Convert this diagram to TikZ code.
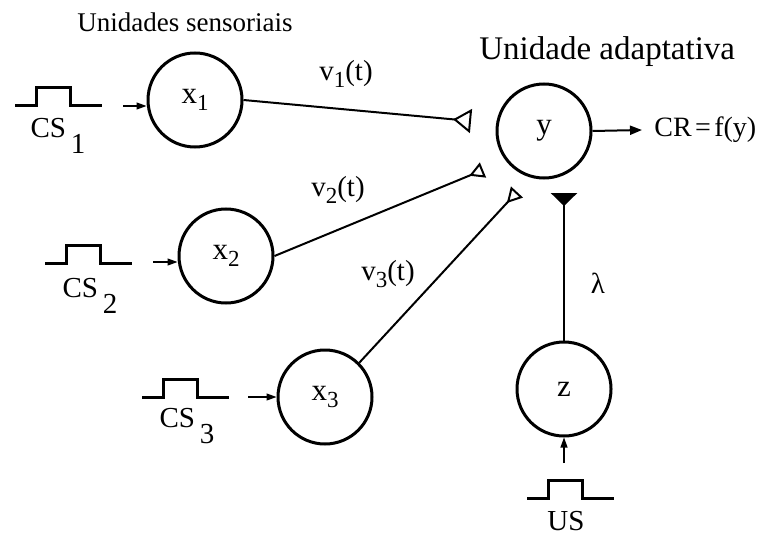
\documentclass[tikz,border=0pt]{standalone}
\usepackage{fontspec}
\setmainfont{Liberation Serif}
\usetikzlibrary{arrows.meta, positioning, calc}

% lowered indices as in the drawing
\newcommand{\csidx}[1]{\,\raisebox{-1.2ex}{#1}}
\newcommand{\unitidx}[1]{\raisebox{-0.5ex}{\fontsize{11.5}{13}\selectfont #1}}

\begin{document}
\begin{tikzpicture}[x=0.5pt, y=-0.5pt,
  every node/.style={font=\fontsize{14.5}{17}\selectfont, inner sep=1pt},
  unit/.style={circle, draw, line width=1.5pt, minimum size=47pt, inner sep=0pt,
               font=\fontsize{15.5}{18}\selectfont},
  pulse/.style={line width=1.5pt},
  feed/.style={line width=0.6pt, -{Triangle[length=5pt, width=3.5pt]}},
  link/.style={line width=1pt},
  synbig/.style={link, -{Triangle[open, reversed, length=9pt, width=12pt]}},
  syn/.style={link, -{Triangle[open, reversed, length=7.5pt, width=8pt]}},
  synfull/.style={line width=1.4pt, -{Triangle[reversed, length=6.5pt, width=13pt]}}
]
  \useasboundingbox (0,0) rectangle (763,534);

  % titles
  \node[anchor=west, font=\fontsize{13.5}{16}\selectfont] (tsens) at (75,22) {Unidades sensoriais};
  \node[anchor=west, font=\fontsize{16.5}{19}\selectfont] (tadap) at (477,52) {Unidade adaptativa};

  % units
  \node[unit] (x1) at (195,100) {x\unitidx{1}};
  \node[unit] (x2) at (226,256) {x\unitidx{2}};
  \node[unit] (x3) at (325,397) {x\unitidx{3}};
  \node[unit] (y) at (544,131) {y};
  \node[unit] (z) at (564,389) {z};

  % stimulus pulses
  \foreach \px/\py in {15/106, 45/263, 142/397, 527/498}
    \draw[pulse] (\px,\py) -- ++(21,0) -- ++(0,-18) -- ++(34,0) -- ++(0,18) -- ++(32,0);
  \node (cs1) at (58,136) {CS\csidx{1}};
  \node (cs2) at (90,296) {CS\csidx{2}};
  \node (cs3) at (187,426) {CS\csidx{3}};
  \node (us) at (566,521) {US};

  % inputs
  \coordinate (i1) at (123,106);
  \coordinate (i2) at (153,262);
  \coordinate (i3) at (248,397);
  \coordinate (i4) at (564,463);
  \draw[feed] (i1) -- (i1 -| x1.west);
  \draw[feed] (i2) -- (i2 -| x2.west);
  \draw[feed] (i3) -- (i3 -| x3.west);
  \draw[feed] (i4) -- (z.south);

  % synapses
  \coordinate (s1) at (471,121);
  \coordinate (s2) at (483,170);
  \coordinate (s3) at (517,192);
  \coordinate (s4) at (564,193);
  \draw[synbig] (x1.east) -- (s1);
  \draw[syn] (x2.east) -- (s2);
  \draw[syn] (x3.45) -- (s3);
  \draw[synfull] (z.north) -- (s4);

  \node (v1) at (346,74) {v\unitidx{1}(t)};
  \node (v2) at (338,190) {v\unitidx{2}(t)};
  \node (v3) at (388,274) {v\unitidx{3}(t)};
  \node (lam) at (598,283) {λ};

  % output
  \node[anchor=west, font=\fontsize{14}{17}\selectfont] (cr) at (652,130) {CR\hspace{0.12em}=\hspace{0.12em}f(y)};
  \draw[line width=1pt, -{Triangle[length=6pt, width=4.5pt]}] (y.east) -- ($(cr.west)+(-10,0)$);
\end{tikzpicture}
\end{document}
